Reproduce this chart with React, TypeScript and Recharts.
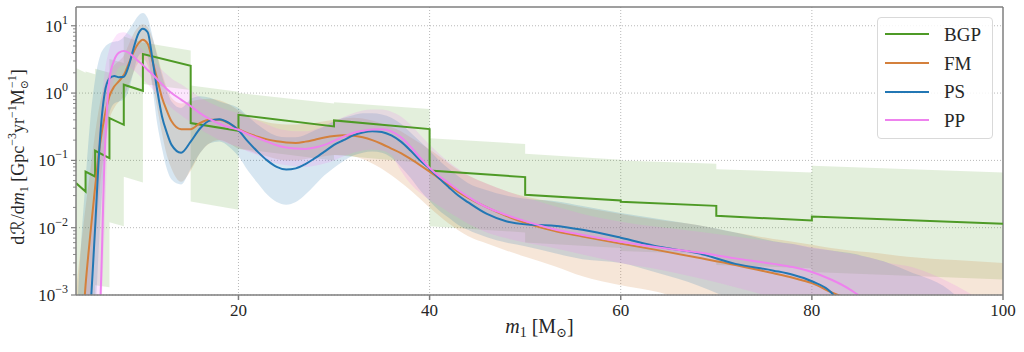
import React from 'react';
import { ComposedChart, Line, Area, XAxis, YAxis, CartesianGrid, ReferenceLine, Legend } from 'recharts';

const FONT = '"Liberation Serif", "DejaVu Serif", serif';
const AXIS = '#7f7f7f';
const TEXT = '#262626';

const GREEN = '#4e9a26';
const ORANGE = '#d4803c';
const BLUE = '#2277b4';
const PINK = '#ee82ee';

// primary mass grid (Msun) for the smooth models
const M = [
  3, 3.5, 4, 4.5, 5, 5.5, 6, 6.5, 7, 7.5, 8, 8.5, 9, 9.5, 10, 10.5, 11, 11.5, 12, 12.5, 13,
  14, 15, 16, 17, 18, 19, 20, 21, 22, 23, 24, 25, 26, 27, 28, 29, 30, 31, 32, 33, 34, 35, 36, 37, 38, 39, 40, 41, 42, 43, 44,
  46, 48, 50, 53, 56, 60, 64, 68, 72, 76, 78, 80, 82, 84, 86, 88, 90, 95, 100,
];

// PS (blue) median and 90% band
const PS = [
  1e-6, 1e-5, 1e-4, 6e-4, 0.01, 0.2, 1.0, 1.65, 1.8, 1.72, 1.75, 2.5, 4.5, 7.5, 9.0, 8.0, 3.2, 1.1, 0.45, 0.26, 0.17,
  0.13, 0.19, 0.3, 0.39, 0.41, 0.36, 0.28, 0.19, 0.135, 0.1, 0.08, 0.073, 0.076, 0.088, 0.108, 0.135, 0.17, 0.2, 0.235, 0.26, 0.272, 0.265, 0.235, 0.19, 0.14, 0.1, 0.075, 0.054, 0.04, 0.03, 0.024,
  0.016, 0.0125, 0.0112, 0.0107, 0.0093, 0.0071, 0.0052, 0.0042, 0.0029, 0.0023, 0.002, 0.0016, 0.0011, 0.0004, 1e-4, 2e-5, 5e-6, 1e-6, 1e-7,
];
const PS_LO = [
  1e-7, 1e-6, 1e-5, 1e-4, 5e-4, 0.01, 0.12, 0.5, 0.7, 0.75, 0.8, 1.1, 2.0, 3.5, 4.0, 3.5, 1.2, 0.35, 0.15, 0.075, 0.052,
  0.044, 0.075, 0.13, 0.18, 0.19, 0.16, 0.115, 0.07, 0.046, 0.031, 0.024, 0.022, 0.024, 0.031, 0.043, 0.06, 0.078, 0.098, 0.118, 0.13, 0.135, 0.13, 0.11, 0.08, 0.055, 0.036, 0.025, 0.018, 0.014, 0.011, 0.0093,
  0.0072, 0.006, 0.0053, 0.0042, 0.0034, 0.003, 0.0021, 0.0014, 0.0008, 0.0004, 0.00025, 1.5e-4, 8e-5, 4e-5, 2e-5, 1e-5, 5e-6, 1e-6, 1e-7,
];
const PS_HI = [
  3e-4, 0.005, 0.05, 0.4, 1.6, 3.5, 4.8, 5.5, 5.8, 6.0, 6.8, 8.5, 11, 14, 15.5, 13, 7, 3.5, 1.8, 1.1, 0.75,
  0.6, 0.82, 0.9, 0.85, 0.75, 0.68, 0.6, 0.45, 0.34, 0.27, 0.23, 0.22, 0.22, 0.24, 0.28, 0.32, 0.38, 0.43, 0.47, 0.5, 0.5, 0.48, 0.43, 0.35, 0.26, 0.19, 0.14, 0.1, 0.075, 0.058, 0.046,
  0.036, 0.03, 0.027, 0.025, 0.021, 0.0166, 0.0135, 0.011, 0.0085, 0.0063, 0.0057, 0.005, 0.0046, 0.0042, 0.0036, 0.003, 0.0023, 0.001, 1e-4,
];

// FM (orange)
const FM = [
  1e-5, 1.5e-4, 0.0014, 0.008, 0.04, 0.17, 0.45, 0.9, 1.25, 1.5, 1.85, 2.7, 4.0, 5.4, 6.2, 5.4, 3.0, 1.6, 0.85, 0.55, 0.38,
  0.29, 0.29, 0.36, 0.4, 0.4, 0.355, 0.29, 0.252, 0.225, 0.205, 0.192, 0.185, 0.182, 0.19, 0.203, 0.218, 0.23, 0.236, 0.233, 0.22, 0.2, 0.175, 0.15, 0.128, 0.105, 0.085, 0.068, 0.054, 0.043, 0.034, 0.028,
  0.02, 0.015, 0.0118, 0.009, 0.0074, 0.0058, 0.0046, 0.0036, 0.0028, 0.0021, 0.0018, 0.0015, 0.0011, 0.0008, 0.0002, 4e-5, 1e-5, 1e-6, 1e-7,
];
const FM_LO = [
  1e-6, 1e-5, 1e-4, 0.001, 0.006, 0.04, 0.15, 0.4, 0.6, 0.75, 0.9, 1.3, 2.0, 2.8, 3.2, 2.6, 1.4, 0.6, 0.25, 0.12, 0.075,
  0.048, 0.07, 0.13, 0.18, 0.2, 0.18, 0.15, 0.14, 0.125, 0.115, 0.105, 0.1, 0.1, 0.105, 0.11, 0.115, 0.12, 0.12, 0.115, 0.105, 0.09, 0.075, 0.06, 0.047, 0.036, 0.027, 0.02, 0.015, 0.0115, 0.0092, 0.0075,
  0.0058, 0.0046, 0.0037, 0.0027, 0.0019, 0.0014, 0.0011, 0.0007, 0.0005, 0.0003, 0.00025, 2e-4, 1.5e-4, 1e-4, 7e-5, 5e-5, 3e-5, 1e-5, 5e-6,
];
const FM_HI = [
  0.0012, 0.005, 0.02, 0.07, 0.25, 0.7, 1.3, 2.0, 2.6, 3.0, 3.6, 5.2, 7.5, 9.5, 10.5, 9.5, 6.5, 3.8, 2.0, 1.2, 0.85,
  0.7, 0.75, 0.8, 0.82, 0.78, 0.68, 0.55, 0.45, 0.4, 0.37, 0.35, 0.34, 0.34, 0.35, 0.36, 0.38, 0.4, 0.42, 0.43, 0.42, 0.39, 0.35, 0.31, 0.27, 0.22, 0.18, 0.145, 0.115, 0.09, 0.072, 0.06,
  0.045, 0.035, 0.029, 0.024, 0.02, 0.016, 0.013, 0.011, 0.0085, 0.0068, 0.0062, 0.0056, 0.005, 0.0046, 0.0043, 0.004, 0.0037, 0.0033, 0.003,
];

// PP (pink)
const PP = [
  1e-7, 1e-6, 1e-5, 5e-5, 2e-4, 6e-4, 0.12, 1.6, 3.1, 4.0, 4.2, 4.0, 3.5, 3.0, 2.6, 2.2, 1.9, 1.6, 1.35, 1.15, 1.0,
  0.8, 0.64, 0.5, 0.41, 0.35, 0.31, 0.285, 0.245, 0.215, 0.19, 0.168, 0.155, 0.15, 0.148, 0.155, 0.17, 0.195, 0.225, 0.255, 0.275, 0.288, 0.29, 0.27, 0.22, 0.16, 0.11, 0.077, 0.058, 0.046, 0.036, 0.029,
  0.02, 0.0155, 0.0125, 0.0095, 0.0078, 0.0062, 0.0051, 0.0043, 0.0035, 0.0029, 0.0026, 0.0022, 0.0017, 0.0012, 0.0007, 0.0002, 5e-5, 1e-6, 1e-7,
];
const PP_LO = [
  1e-8, 1e-7, 1e-6, 1e-5, 5e-5, 2e-4, 0.01, 0.6, 1.6, 2.4, 2.6, 2.5, 2.2, 1.9, 1.6, 1.35, 1.15, 0.98, 0.82, 0.7, 0.6,
  0.47, 0.37, 0.29, 0.24, 0.2, 0.175, 0.16, 0.135, 0.12, 0.1, 0.09, 0.085, 0.082, 0.08, 0.083, 0.09, 0.1, 0.115, 0.13, 0.14, 0.145, 0.14, 0.12, 0.07, 0.045, 0.033, 0.026, 0.021, 0.017, 0.014, 0.0115,
  0.0085, 0.007, 0.006, 0.005, 0.004, 0.003, 0.0024, 0.0018, 0.0013, 0.0009, 0.0007, 0.0005, 0.0003, 1.5e-4, 7e-5, 3e-5, 1e-5, 1e-6, 1e-7,
];
const PP_HI = [
  1e-5, 1e-4, 0.001, 0.008, 0.05, 0.4, 2.0, 4.5, 6.5, 7.8, 8.0, 7.5, 6.5, 5.2, 4.3, 3.6, 3.0, 2.6, 2.2, 1.9, 1.65,
  1.35, 1.08, 0.86, 0.72, 0.62, 0.55, 0.5, 0.44, 0.39, 0.34, 0.3, 0.28, 0.27, 0.27, 0.29, 0.33, 0.38, 0.44, 0.5, 0.55, 0.57, 0.57, 0.53, 0.45, 0.34, 0.24, 0.17, 0.125, 0.095, 0.075, 0.06,
  0.045, 0.035, 0.028, 0.021, 0.016, 0.0123, 0.0102, 0.0088, 0.0074, 0.0062, 0.0057, 0.0051, 0.0046, 0.0041, 0.0036, 0.003, 0.0027, 0.0014, 0.0005,
];

// BGP binned model: bin edges, value at start / end of each bin
const BGP_EDGES = [3, 4, 5, 6.5, 8, 10, 15, 20, 30, 40, 50, 60, 70, 80, 100];
const BGP_START = [0.046, 0.068, 0.139, 0.426, 1.33, 3.79, 0.358, 0.476, 0.392, 0.0708, 0.0308, 0.0243, 0.015, 0.0147];
const BGP_END = [0.0345, 0.0576, 0.108, 0.338, 1.08, 2.55, 0.275, 0.319, 0.292, 0.0565, 0.0254, 0.0211, 0.0128, 0.0114];
const BGP_LO_START = [0.0003, 0.0003, 0.0014, 0.012, 0.057, 1.36, 0.0245, 0.15, 0.12, 0.0105, 0.006, 0.0045, 0.0028, 0.0022];
const BGP_LO_END = [0.0002, 0.0002, 0.0013, 0.0105, 0.047, 1.11, 0.0185, 0.1, 0.09, 0.0085, 0.005, 0.004, 0.0025, 0.0017];
const BGP_HI_START = [2.35, 2.1, 2.3, 3.2, 6.9, 5.65, 1.3, 1.0, 0.73, 0.214, 0.125, 0.1, 0.074, 0.083];
const BGP_HI_END = [2.0, 1.9, 2.0, 2.8, 5.6, 4.3, 1.05, 0.7, 0.58, 0.175, 0.102, 0.089, 0.066, 0.066];

const SERIES = [
  { name: 'BGP', color: GREEN },
  { name: 'FM', color: ORANGE },
  { name: 'PS', color: BLUE },
  { name: 'PP', color: PINK },
];

const X_TICKS = [20, 40, 60, 80, 100];
const Y_MAJOR = [0.001, 0.01, 0.1, 1, 10];
const Y_MAX = 19;

const yTicks: number[] = [];
for (let e = -3; e <= 1; e++) {
  for (let k = 1; k <= 9; k++) {
    const v = k * Math.pow(10, e);
    if (v <= Y_MAX) yTicks.push(v);
  }
}

const smooth = (mid: number[], lo: number[], hi: number[]) =>
  M.map((m, i) => ({ m, y: mid[i], band: [lo[i], hi[i]] }));

const psData = smooth(PS, PS_LO, PS_HI);
const fmData = smooth(FM, FM_LO, FM_HI);
const ppData = smooth(PP, PP_LO, PP_HI);

const bgpData: { m: number; y: number; band: number[] }[] = [];
BGP_START.forEach((_, i) => {
  bgpData.push({ m: BGP_EDGES[i], y: BGP_START[i], band: [BGP_LO_START[i], BGP_HI_START[i]] });
  bgpData.push({ m: BGP_EDGES[i + 1], y: BGP_END[i], band: [BGP_LO_END[i], BGP_HI_END[i]] });
});

const YTick = (props: any) => {
  const { x, y, payload } = props;
  const lg = Math.log10(payload.value);
  const e = Math.round(lg);
  const major = Math.abs(lg - e) < 1e-6;
  return (
    <g>
      <line x1={x} x2={x - (major ? 5 : 3)} y1={y} y2={y} stroke={AXIS} strokeWidth={major ? 1.2 : 0.9} />
      {major && (
        <text x={x - 8} y={y + 6} textAnchor="end" fontFamily={FONT} fontSize={17} fill={TEXT}>
          10
          <tspan dy={-8} fontSize={12}>{e < 0 ? `\u2212${-e}` : `${e}`}</tspan>
        </text>
      )}
    </g>
  );
};

const XLabel = (props: any) => {
  const vb = props.viewBox || { x: 76, y: 295, width: 927 };
  const cx = vb.x + vb.width / 2;
  const cy = vb.y + 38;
  return (
    <text x={cx} y={cy} textAnchor="middle" fontFamily={FONT} fontSize={20} fill={TEXT}>
      <tspan fontStyle="italic">m</tspan>
      <tspan dy={4} fontSize={14}>1</tspan>
      <tspan dy={-4}> [M</tspan>
      <tspan dy={4} fontSize={13}>⊙</tspan>
      <tspan dy={-4}>]</tspan>
    </text>
  );
};

const YLabel = (props: any) => {
  const vb = props.viewBox || { x: 0, y: 7, height: 288 };
  const cx = vb.x + 24;
  const cy = vb.y + vb.height / 2 + 6;
  return (
    <text
      x={cx}
      y={cy}
      transform={`rotate(-90, ${cx}, ${cy})`}
      textAnchor="middle"
      fontFamily={FONT}
      fontSize={18}
      fill={TEXT}
    >
      <tspan>d</tspan>
      <tspan fontFamily='"DejaVu Sans", sans-serif' dx={1}>ℛ</tspan>
      <tspan dx={1}>/d</tspan>
      <tspan fontStyle="italic">m</tspan>
      <tspan dy={4} fontSize={12}>1</tspan>
      <tspan dy={-4}> [Gpc</tspan>
      <tspan dy={-8} fontSize={12}>{'\u22123'}</tspan>
      <tspan dy={8}>yr</tspan>
      <tspan dy={-8} fontSize={12}>{'\u22121'}</tspan>
      <tspan dy={8}>M</tspan>
      <tspan dy={4} fontSize={11}>⊙</tspan>
      <tspan dy={-12} dx={-8} fontSize={12}>{'\u22121'}</tspan>
      <tspan dy={8}>]</tspan>
    </text>
  );
};

const LegendBox = () => (
  <div
    style={{
      width: 116,
      height: 122,
      boxSizing: 'border-box',
      border: '1px solid #d9d9d9',
      borderRadius: 4,
      background: 'rgba(255,255,255,0.85)',
      padding: '2px 0 0 7px',
      fontFamily: FONT,
      fontSize: 19,
      color: TEXT,
    }}
  >
    {SERIES.map((s) => (
      <div key={s.name} style={{ display: 'flex', alignItems: 'center', height: 28.7 }}>
        <svg width={44} height={4} style={{ display: 'block' }}>
          <line x1={0} x2={44} y1={2} y2={2} stroke={s.color} strokeWidth={2} />
        </svg>
        <span style={{ marginLeft: 15, lineHeight: 1 }}>{s.name}</span>
      </div>
    ))}
  </div>
);

export default function App() {
  return (
    <div style={{ position: 'absolute', left: 0, top: 0, width: 1024, height: 352, background: '#fff' }}>
      <ComposedChart width={1024} height={352} margin={{ top: 7, right: 21, left: 0, bottom: 0 }}>
        <CartesianGrid
          stroke="#b8b8b8"
          strokeDasharray="1 2"
          horizontalValues={Y_MAJOR}
          verticalValues={[20, 40, 60, 80]}
        />
        <XAxis
          dataKey="m"
          type="number"
          domain={[3, 100]}
          allowDataOverflow
          ticks={X_TICKS}
          height={57}
          stroke={AXIS}
          strokeWidth={1.5}
          tickSize={5}
          tickMargin={4}
          tick={{ fontFamily: FONT, fontSize: 17, fill: TEXT }}
          label={<XLabel />}
        />
        <YAxis
          scale="log"
          domain={[0.001, Y_MAX]}
          allowDataOverflow
          ticks={yTicks}
          interval={0}
          width={76}
          stroke={AXIS}
          strokeWidth={1.5}
          tickLine={false}
          tickSize={0}
          tickMargin={0}
          tick={<YTick />}
          label={<YLabel />}
        />
        <ReferenceLine y={Y_MAX} stroke={AXIS} strokeWidth={1.5} />
        <ReferenceLine x={100} stroke={AXIS} strokeWidth={1.5} />

        <Area data={bgpData} dataKey="band" type="linear" fill={GREEN} fillOpacity={0.16} stroke="none" isAnimationActive={false} legendType="none" />
        <Area data={fmData} dataKey="band" type="monotone" fill={ORANGE} fillOpacity={0.2} stroke="none" isAnimationActive={false} legendType="none" />
        <Area data={psData} dataKey="band" type="monotone" fill={BLUE} fillOpacity={0.18} stroke="none" isAnimationActive={false} legendType="none" />
        <Area data={ppData} dataKey="band" type="monotone" fill={PINK} fillOpacity={0.2} stroke="none" isAnimationActive={false} legendType="none" />

        <Line data={bgpData} dataKey="y" name="BGP" type="linear" stroke={GREEN} strokeWidth={2} dot={false} isAnimationActive={false} />
        <Line data={fmData} dataKey="y" name="FM" type="monotone" stroke={ORANGE} strokeWidth={2} dot={false} isAnimationActive={false} />
        <Line data={psData} dataKey="y" name="PS" type="monotone" stroke={BLUE} strokeWidth={2} dot={false} isAnimationActive={false} />
        <Line data={ppData} dataKey="y" name="PP" type="monotone" stroke={PINK} strokeWidth={2} dot={false} isAnimationActive={false} />

        <Legend
          layout="horizontal"
          verticalAlign="middle"
          align="center"
          content={<LegendBox />}
          wrapperStyle={{ position: 'absolute', left: 877, top: 17, width: 116, height: 122 }}
        />
      </ComposedChart>
    </div>
  );
}
